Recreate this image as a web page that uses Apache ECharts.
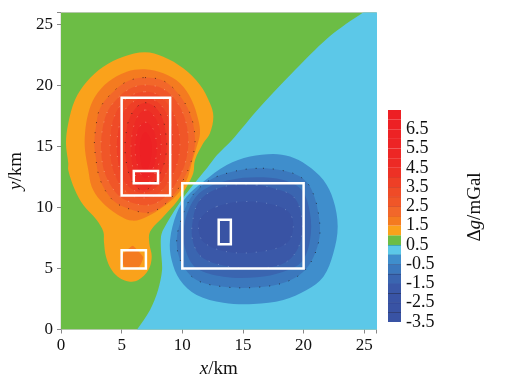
<!DOCTYPE html>
<html>
<head>
<meta charset="utf-8">
<style>html,body{margin:0;padding:0;background:#fff}#c{width:510px;height:383px}</style>
<script src="https://cdn.jsdelivr.net/npm/echarts@6/dist/echarts.min.js"></script>
</head>
<body>
<div id="c"></div>
<script>
// Contour outlines in km
const plotArea = [[0,0],[26,0],[26,26],[0,26]];
const contourZero = [[5.4,-1.2],[6.27,0],[7.34,1.6],[8,3.24],[8.33,4.88],[8.24,6.52],[8.24,7.59],[8.41,8.16],[9.23,9.56],[10.06,10.79],[10.88,11.85],[12.04,13.25],[12.86,14.31],[14.1,15.55],[16.41,18.25],[19.7,21.7],[22.18,24.08],[24.9,26],[26.5,27],[29,29],[29,-3],[9,-3]];
const contour05 = [[6.92,22.74],[8.43,22.38],[10.08,21.43],[11.46,20.06],[12.28,18.56],[12.56,17.46],[12.28,16.1],[11.72,15.27],[11.05,13.9],[10.9,12.81],[10.36,11.71],[9.54,10.48],[8.43,9.25],[7.34,8.02],[7.28,7.07],[7.48,5.97],[7.2,4.88],[6.37,4.05],[5.69,3.92],[4.86,4.2],[4.18,4.88],[3.71,5.97],[3.54,7.2],[3.49,8.02],[2.94,8.98],[1.84,10.21],[1.15,11.44],[0.6,13.07],[0.6,13.63],[0.41,15.27],[0.6,16.92],[1.15,18.83],[2.12,20.33],[3.49,21.56],[5.14,22.38]];
const contour10 = [[6.92,21.35],[8.43,21.02],[9.81,20.2],[10.77,18.83],[11.32,17.19],[11.46,16.1],[11.19,15],[10.77,13.63],[10.63,13.08],[10.36,12.26],[9.54,11.03],[8.43,10.07],[7.07,9.25],[5.83,8.93],[4.31,9.66],[3.22,10.62],[2.53,11.71],[2.25,13.08],[1.98,14.72],[1.98,16.1],[2.25,17.74],[2.8,19.1],[3.9,20.33],[5.42,21.15]];
const contour10Small = [[5.91,6.87],[6.29,6.52],[6.78,5.92],[6.45,5.15],[5.28,5.1],[4.92,5.92],[5.28,6.38]];
const contour15 = [[6.92,20.66],[8.57,20.33],[9.95,18.97],[10.77,17.33],[11.05,15.41],[10.77,13.9],[10.22,12.54],[9.4,11.17],[8.3,10.07],[7.2,9.58],[6.1,9.75],[4.59,10.35],[3.63,11.44],[3.07,12.81],[2.86,14.18],[2.75,15.13],[2.86,16.5],[3.22,18.15],[4.18,19.38],[5.42,20.33]];
const contour20 = [[6.9,20.05],[8.4,19.75],[9.6,18.6],[10.3,17],[10.5,15.3],[10.25,13.7],[9.7,12.4],[8.9,11.2],[7.9,10.4],[7,10.2],[6,10.35],[4.8,10.95],[4,12],[3.5,13.2],[3.3,15],[3.45,16.6],[3.9,18],[4.9,19.2],[5.8,19.8]];
const contour25 = [[6.9,19.5],[8.1,19.2],[9,18.2],[9.6,16.8],[9.8,15.2],[9.6,13.7],[9.1,12.5],[8.3,11.4],[7.5,10.9],[6.7,10.8],[5.8,11],[5,11.7],[4.4,12.8],[4.1,14],[4.04,15.2],[4.2,16.8],[4.7,18.1],[5.6,19.1]];
const contour30 = [[6.9,19],[7.9,18.7],[8.6,17.9],[9.1,16.6],[9.2,15.2],[9,13.8],[8.6,12.7],[7.9,11.7],[7.1,11.25],[6.4,11.25],[5.6,11.7],[5,12.6],[4.7,13.8],[4.6,15.2],[4.8,16.7],[5.2,17.9],[6,18.7]];
const contour35 = [[6.95,18.6],[7.8,18.2],[8.4,17.2],[8.65,16],[8.7,14.8],[8.5,13.6],[8,12.5],[7.4,11.7],[6.8,11.4],[6.2,11.7],[5.7,12.5],[5.4,13.6],[5.28,14.8],[5.35,16],[5.6,17.2],[6.2,18.2]];
const contour40 = [[6.95,18],[7.6,17.6],[8.05,16.7],[8.25,15.4],[8.15,14],[7.8,12.9],[7.3,12.1],[6.85,11.85],[6.4,12.15],[6,13],[5.8,14.1],[5.8,15.5],[6,16.7],[6.4,17.6]];
const contour50 = [[6.95,17],[7.5,16.6],[7.8,15.8],[7.9,14.8],[7.75,13.7],[7.4,12.8],[7,12.4],[6.55,12.8],[6.25,13.7],[6.1,14.8],[6.2,15.8],[6.45,16.6]];
const contour60 = [[6.95,16.2],[7.3,15.8],[7.5,15],[7.4,14],[7.2,13.3],[6.95,12.9],[6.7,13.3],[6.55,14],[6.5,15],[6.65,15.8]];
const contourM05 = [[17.5,14.4],[15.58,14.18],[13.66,13.49],[11.73,12.12],[10.36,10.9],[9.54,9.53],[8.99,7.34],[9.12,5.7],[9.81,4.06],[11.18,2.83],[13.38,2.2],[15.86,2.09],[18.33,2.42],[20.25,3.24],[21.63,4.33],[22.45,6.25],[22.81,8.44],[22.45,10.62],[21.63,12.26],[20.25,13.49],[18.88,14.18]];
const contourM10 = [[16.13,13.22],[14.2,12.95],[12.28,12.26],[10.77,10.9],[9.81,8.71],[9.54,7.07],[9.95,5.43],[11.18,4.06],[13.38,3.51],[16.13,3.46],[18.6,3.92],[20.25,5.02],[21.21,7.07],[21.3,8.98],[20.67,11.44],[19.7,12.54],[18.05,13.08]];
const contourM15 = [[16.13,12.49],[13.93,12.26],[11.73,11.44],[10.63,10.08],[10.08,7.89],[10.36,6.25],[11.18,5.02],[13.38,4.33],[16.13,4.28],[18.33,4.74],[19.84,5.56],[20.53,7.34],[20.53,9.53],[19.84,11.44],[18.33,12.26]];
const contourM20 = [[16.13,11.85],[13.38,11.71],[11.46,10.62],[10.83,8.71],[10.91,7.07],[11.73,5.84],[13.93,5.15],[16.41,5.02],[18.6,5.56],[19.7,7.07],[19.84,9.25],[19.15,10.9],[17.5,11.58]];
const contourM25 = [[12.84,10.08],[14.76,10.48],[16.96,10.35],[18.74,9.66],[19.15,8.43],[18.6,7.07],[16.41,6.38],[13.66,6.38],[11.73,7.2],[11.32,8.57],[11.73,9.39]];

// White boxes: [x0, y0, x1, y1] in km
const boxes = [[5,11,9,19],[6,12,8,13],[5,5,7,6.5],[10,5,20,12],[13,7,14,9]];

// Colour scale
const bandLower = [-3.5,-3,-2.5,-2,-1.5,-1,-0.5,0,0.5,1,1.5,2,2.5,3,3.5,4,4.5,5,5.5,6,6.5,7];
const bandColors = ['#3953A4','#3953A4','#3954A5','#3A58A8','#3A65B0','#3B78BD','#3F8ECC','#5CC8E8','#6CBD45','#FAA21B','#F47B20','#F2672A','#F05628','#EF4B27','#EE3F26','#ED3125','#ED2A25','#ED2625','#ED2425','#ED2224','#ED2024','#ED1F24'];
const bandEdges = ['#222a55','#2a3a80','#1a2040','#3a58a8','#1f2a50','#3a5a90','#4a8db5','#187a70','','','#e0562a','#c9482a','#c9402a','#c23c2a','#d03c28','','','','','','',''];
const legendTicks = ['-3.5','-2.5','-1.5','-0.5','0.5','1.5','2.5','3.5','4.5','5.5','6.5'];
const xTicksMax = 25;

const DARK = 'rgba(30,20,20,0.7)', LIGHT = 'rgba(255,215,190,0.45)', LIGHTB = 'rgba(170,190,225,0.45)';
const layers = [
  {pts: plotArea, fill: bandColors[8]},
  {pts: contourZero, fill: bandColors[7], smooth: 0.3},
  {pts: contour05, fill: bandColors[9], smooth: 0.35},
  {pts: contour10, fill: bandColors[10], smooth: 0.35},
  {pts: contour10Small, fill: bandColors[10], smooth: 0.15},
  {pts: contour15, fill: bandColors[11], smooth: 0.35, dots: DARK},
  {pts: contour20, fill: bandColors[12], smooth: 0.35, dots: LIGHT},
  {pts: contour25, fill: bandColors[13], smooth: 0.35, dots: LIGHT},
  {pts: contour30, fill: bandColors[14], smooth: 0.35, dots: LIGHT},
  {pts: contour35, fill: bandColors[15], smooth: 0.35, dots: DARK},
  {pts: contour40, fill: bandColors[16], smooth: 0.35, dots: LIGHT},
  {pts: contour50, fill: bandColors[18], smooth: 0.35, dots: LIGHT},
  {pts: contour60, fill: bandColors[20], smooth: 0.35},
  {pts: contourM05, fill: bandColors[6], smooth: 0.35},
  {pts: contourM10, fill: bandColors[5], smooth: 0.35, dots: DARK},
  {pts: contourM15, fill: bandColors[4], smooth: 0.35},
  {pts: contourM20, fill: bandColors[3], smooth: 0.35, dots: LIGHTB},
  {pts: contourM25, fill: bandColors[1], smooth: 0.35, dots: LIGHTB}
];

const FONT = '"Liberation Serif", "Times New Roman", serif';
const chart = echarts.init(document.getElementById('c'), null, {renderer: 'canvas'});
chart.setOption({
  animation: false,
  backgroundColor: '#fff',
  textStyle: {fontFamily: FONT},
  grid: [
    {left: 61, top: 12.5, width: 315.4, height: 317, show: true, borderColor: '#ccc', borderWidth: 1, backgroundColor: 'transparent', outerBoundsMode: 'none'},
    {left: 388, top: 110, width: 13, height: 212, outerBoundsMode: 'none'}
  ],
  xAxis: [
    {gridIndex: 0, type: 'value', min: 0, max: 26, interval: 5,
     axisLine: {show: false}, splitLine: {show: false},
     axisTick: {show: true, length: 4, lineStyle: {color: '#888'}},
     axisLabel: {fontSize: 17, color: '#111', margin: 8, fontFamily: FONT,
       formatter: v => v <= xTicksMax ? String(v) : ''},
     name: '{i|x}{n|/km}', nameLocation: 'middle', nameGap: 28,
     nameTextStyle: {rich: {
       i: {fontFamily: FONT, fontStyle: 'italic', fontSize: 19, color: '#111'},
       n: {fontFamily: FONT, fontSize: 19, color: '#111'}}}},
    {gridIndex: 1, type: 'value', min: 0, max: 1, show: false}
  ],
  yAxis: [
    {gridIndex: 0, type: 'value', min: 0, max: 26, interval: 5,
     axisLine: {show: false}, splitLine: {show: false},
     axisTick: {show: true, length: 4, lineStyle: {color: '#888'}},
     axisLabel: {fontSize: 17, color: '#111', margin: 8, fontFamily: FONT,
       formatter: v => v <= xTicksMax ? String(v) : ''},
     name: '{i|y}{n|/km}', nameLocation: 'middle', nameGap: 20, nameRotate: 90,
     nameTextStyle: {rich: {
       i: {fontFamily: FONT, fontStyle: 'italic', fontSize: 19, color: '#111'},
       n: {fontFamily: FONT, fontSize: 19, color: '#111'}}}},
    {gridIndex: 1, type: 'value', position: 'right', min: -3.5, max: 7.5, interval: 0.5,
     axisLine: {show: false}, axisTick: {show: false}, splitLine: {show: false},
     axisLabel: {fontSize: 18, color: '#111', margin: 5, fontFamily: FONT, showMinLabel: true, showMaxLabel: true,
       formatter: v => legendTicks.includes(String(v)) ? String(v) : ''}}
  ],
  graphic: [{
    type: 'text', x: 475, y: 207, rotation: Math.PI / 2,
    style: {text: '{n|\u0394}{i|g}{n|/mGal}', align: 'center', verticalAlign: 'middle',
      rich: {
        i: {fontFamily: FONT, fontStyle: 'italic', fontSize: 19, fill: '#111'},
        n: {fontFamily: FONT, fontSize: 19, fill: '#111'}}}
  }],
  series: [
    {
      type: 'custom', xAxisIndex: 0, yAxisIndex: 0, coordinateSystem: 'cartesian2d', silent: true, clip: true,
      data: layers.map((l, i) => [0, 0, i]),
      renderItem(params, api) {
        const l = layers[api.value(2)];
        return {
          type: 'polygon',
          shape: {points: l.pts.map(p => api.coord(p)), smooth: l.smooth || 0},
          style: {fill: l.fill, stroke: l.dots || null, lineWidth: l.dots ? 1 : 0, lineDash: l.dots ? [1, 9] : null}
        };
      }
    },
    {
      type: 'custom', xAxisIndex: 0, yAxisIndex: 0, coordinateSystem: 'cartesian2d', silent: true, z: 5,
      data: boxes,
      renderItem(params, api) {
        const a = api.coord([api.value(0), api.value(1)]);
        const b = api.coord([api.value(2), api.value(3)]);
        return {
          type: 'rect',
          shape: {x: a[0], y: b[1], width: b[0] - a[0], height: a[1] - b[1]},
          style: {fill: 'none', stroke: '#fff', lineWidth: 2.5}
        };
      }
    },
    {
      type: 'custom', xAxisIndex: 1, yAxisIndex: 1, coordinateSystem: 'cartesian2d', silent: true,
      data: bandLower.map((v, i) => [0, v, i]),
      renderItem(params, api) {
        const i = api.value(2), lo = api.value(1);
        const a = api.coord([0, lo]), b = api.coord([1, lo + 0.5]);
        const children = [{
          type: 'rect', shape: {x: a[0], y: b[1], width: b[0] - a[0], height: a[1] - b[1]},
          style: {fill: bandColors[i]}
        }];
        if (bandEdges[i]) children.push({
          type: 'line', shape: {x1: a[0], y1: b[1], x2: b[0], y2: b[1]},
          style: {stroke: bandEdges[i], lineWidth: 1}
        });
        return {type: 'group', children};
      }
    }
  ]
});
</script>
</body>
</html>
